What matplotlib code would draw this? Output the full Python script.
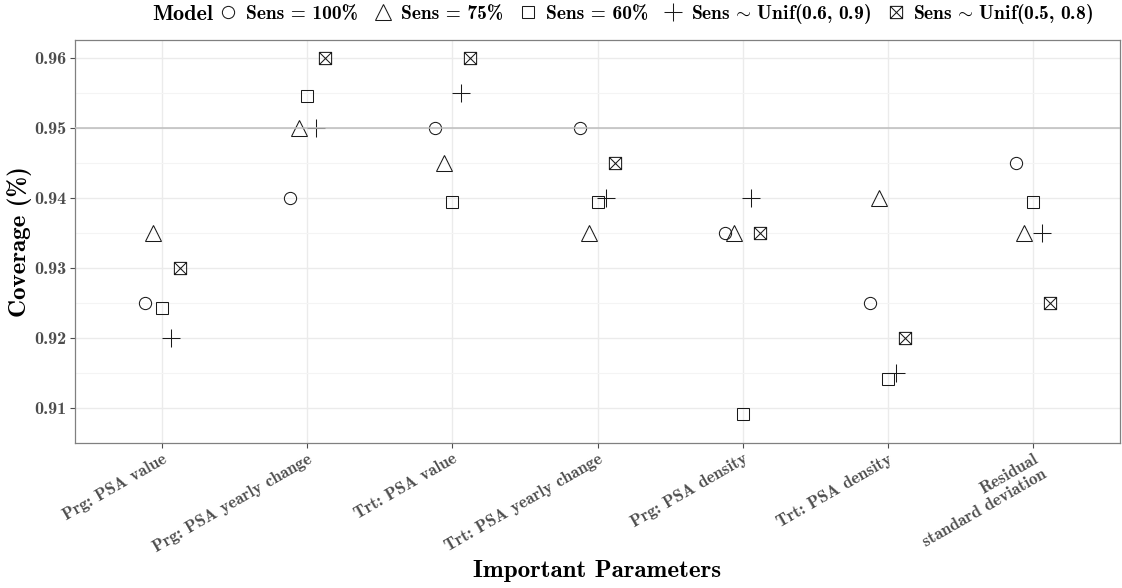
import matplotlib
matplotlib.use('Agg')
import matplotlib.pyplot as plt
from matplotlib.path import Path
import numpy as np

categories = ["Prg: PSA value", "Prg: PSA yearly change", "Trt: PSA value",
              "Trt: PSA yearly change", "Prg: PSA density", "Trt: PSA density",
              "Residual\nstandard deviation"]
models = ["Sens = 100%", "Sens = 75%", "Sens = 60%",
          r"Sens$\,\sim\,$Unif(0.6, 0.9)", r"Sens$\,\sim\,$Unif(0.5, 0.8)"]
sens_100 = [0.925, 0.940, 0.950, 0.950, 0.935, 0.925, 0.945]
sens_75 = [0.935, 0.950, 0.945, 0.935, 0.935, 0.940, 0.935]
sens_60 = [0.9242, 0.9545, 0.9394, 0.9394, 0.9091, 0.9142, 0.9394]
unif_06_09 = [0.920, 0.950, 0.955, 0.940, 0.940, 0.915, 0.935]
unif_05_08 = [0.930, 0.960, 0.960, 0.945, 0.935, 0.920, 0.925]
y_ticks = [0.91, 0.92, 0.93, 0.94, 0.95, 0.96]
y_ticklabels = ["0.91", "0.92", "0.93", "0.94", "0.95", "0.96"]
ref_line = 0.95

plt.rcParams['axes.unicode_minus'] = False
plt.rcParams['mathtext.fontset'] = 'cm'
FONT = ['cmb10', 'DejaVu Serif']
TXT = '#4D4D4D'

# boxed-x marker
boxx = Path([(-1, -1), (1, -1), (1, 1), (-1, 1), (-1, -1), (-1, -1), (1, 1), (-1, 1), (1, -1)],
            [Path.MOVETO, Path.LINETO, Path.LINETO, Path.LINETO, Path.CLOSEPOLY,
             Path.MOVETO, Path.LINETO, Path.MOVETO, Path.LINETO])

series = [sens_100, sens_75, sens_60, unif_06_09, unif_05_08]
markers = ['o', '^', 's', '+', boxx]
msizes = [8.8, 11.0, 8.8, 12.5, 8.8]
offsets = [-0.12, -0.06, 0.0, 0.06, 0.12]

fig = plt.figure(figsize=(11.22, 5.88), dpi=100)
ax = fig.add_axes([75/1122, 1-443/588, (1120-75)/1122, (443-40)/588])

x = np.arange(1, len(categories)+1)
handles = []
for vals, m, ms, off, lab in zip(series, markers, msizes, offsets, models):
    h, = ax.plot(x + off, vals, linestyle='none', marker=m, markersize=ms,
                 markerfacecolor='none', markeredgecolor='#1a1a1a',
                 markeredgewidth=0.75, label=lab, zorder=3)
    handles.append(h)

ax.axhline(ref_line, color='#BDBDBD', lw=1.1, zorder=4)

ax.set_xlim(0.4, 7.6)
ax.set_ylim(0.90665, 0.9625)
ax.set_yticks(y_ticks)
ax.set_yticklabels(y_ticklabels)
ax.set_yticks(np.arange(0.905, 0.965, 0.01), minor=True)
ax.set_xticks(x)
ax.set_xticklabels(categories, rotation=30, ha='right', rotation_mode='anchor',
                   multialignment='right')
for t in ax.get_xticklabels():
    t.set_family(FONT)
    t.set_fontsize(12.3)
    t.set_color(TXT)
for t in ax.get_yticklabels():
    t.set_family(FONT)
    t.set_fontsize(13)
    t.set_color(TXT)

ax.grid(which='major', color='#EBEBEB', lw=1.0, zorder=0)
ax.grid(which='minor', axis='y', color='#F4F4F4', lw=0.8, zorder=0)
ax.set_axisbelow(True)
ax.tick_params(which='major', length=3.5, width=0.8, color='#4D4D4D', pad=2.5)
ax.tick_params(which='minor', length=0)
for s in ax.spines.values():
    s.set_color('#808080')
    s.set_linewidth(0.9)

ax.set_ylabel("Coverage (%)", family=FONT, fontsize=18, color='black', labelpad=2)
ax.set_xlabel("Important Parameters", family=FONT, fontsize=18, color='black', labelpad=4)

leg = fig.legend(handles=handles, loc='center', bbox_to_anchor=(656/1122, 1-14/588),
                 ncol=5, frameon=False, prop={'family': FONT, 'size': 14},
                 handlelength=1.0, handletextpad=0.4, columnspacing=0.8,
                 borderpad=0, borderaxespad=0)
fig.canvas.draw()
bb = leg.get_window_extent()
fig.text((bb.x0 - 6)/1122, 1-14/588, "Model", family=FONT, fontsize=16,
         ha='right', va='center')

fig.savefig('out.png', dpi=100)
